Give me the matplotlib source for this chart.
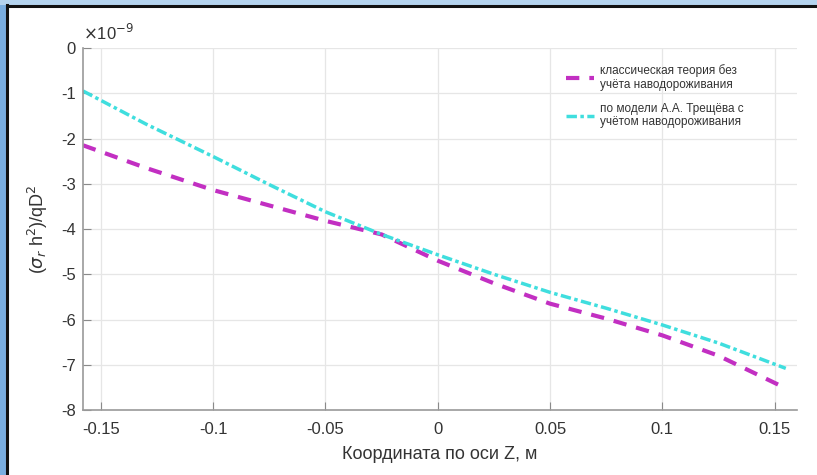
import matplotlib
matplotlib.use("Agg")
import matplotlib.pyplot as plt
from matplotlib.patches import Rectangle
from matplotlib.lines import Line2D
import numpy as np

# Coordinate along Z (m) and normalized radial stress (in units of 1e-9)
z_coord = [-0.158, -0.13, -0.1, -0.075, -0.05, -0.025, 0.0, 0.025, 0.05, 0.075, 0.1, 0.125, 0.155]
classic = [-2.15, -2.65, -3.14, -3.48, -3.82, -4.12, -4.70, -5.20, -5.65, -5.98, -6.35, -6.80, -7.52]
tresh = [-0.95, -1.68, -2.40, -3.02, -3.62, -4.12, -4.57, -5.00, -5.40, -5.75, -6.12, -6.52, -7.08]
scale = 1e-9

xticks = [-0.15, -0.1, -0.05, 0, 0.05, 0.1, 0.15]
xtick_labels = ["-0.15", "-0.1", "-0.05", "0", "0.05", "0.1", "0.15"]
yticks = [0, -1, -2, -3, -4, -5, -6, -7, -8]
ytick_labels = ["0", "-1", "-2", "-3", "-4", "-5", "-6", "-7", "-8"]

label_classic = "классическая теория без\nучёта наводороживания"
label_tresh = "по модели А.А. Трещёва с\nучётом наводороживания"

plt.rcParams['font.family'] = ['Liberation Sans', 'DejaVu Sans']
plt.rcParams['axes.unicode_minus'] = False

fig = plt.figure(figsize=(8.17, 4.75), dpi=100)
fig.patch.set_facecolor("white")

# slide frame: blue strips on the left and top edges with a dark border
frame = [
    Rectangle((0, 0), 7 / 817, 1, facecolor="#7aaee0"),
    Rectangle((0, 1 - 5 / 475), 1, 5 / 475, facecolor="#b4d3ee"),
]
for p in frame:
    p.set_transform(fig.transFigure)
    p.set_edgecolor("none")
    p.set_zorder(-2)
    fig.patches.append(p)
for xs, ys in (([7 / 817, 7 / 817], [0, 1 - 5 / 475]),
               ([7 / 817, 1], [1 - 5.5 / 475, 1 - 5.5 / 475])):
    fig.lines.append(Line2D(xs, ys, transform=fig.transFigure, color="#111111",
                            lw=2.2, zorder=-1))

ax = fig.add_axes([83 / 817, 65 / 475, (797 - 83) / 817, (410 - 48) / 475])
ax.set_zorder(1)

z = np.array(z_coord)
ax.plot(z, np.array(classic) * scale, color="#c22fc2", lw=3.0, ls=(0, (3.2, 2.4)),
        label=label_classic)
ax.plot(z, np.array(tresh) * scale, color="#3fdede", lw=2.5, ls=(0, (3, 1, 1, 1)),
        label=label_tresh)

ax.set_xlim(-0.158, 0.16)
ax.set_ylim(-8 * scale, 0)
ax.set_xticks(xticks)
ax.set_xticklabels(xtick_labels)
ax.set_yticks([v * scale for v in yticks])
ax.set_yticklabels(ytick_labels)

# exponent marker above the y axis
ax.text(0.0, 1.015, r"$\times$10$^{-9}$", transform=ax.transAxes, fontsize=12,
        color="#333333", ha="left", va="bottom")

ax.grid(True, color="#e6e6e6", lw=0.9)
ax.set_axisbelow(True)
for s in ("top", "right"):
    ax.spines[s].set_visible(False)
for s in ("left", "bottom"):
    ax.spines[s].set_color("#9a9a9a")
    ax.spines[s].set_linewidth(1.2)
ax.tick_params(direction="in", length=6, color="#8a8a8a", labelsize=12,
               labelcolor="#333333")
ax.tick_params(axis="x", pad=9)
ax.tick_params(axis="y", pad=5)

ax.set_xlabel("Координата по оси Z, м", fontsize=13, color="#333333", labelpad=6)
ax.set_ylabel(r"($\sigma_r$ h$^2$)/qD$^2$", fontsize=13, color="#333333", labelpad=8)

leg = ax.legend(loc="upper right", bbox_to_anchor=(0.94, 0.985), frameon=False,
                fontsize=8.5, handlelength=2.4, labelspacing=1.0, handletextpad=0.5)
for t in leg.get_texts():
    t.set_color("#333333")

fig.savefig("out.png", dpi=100)
